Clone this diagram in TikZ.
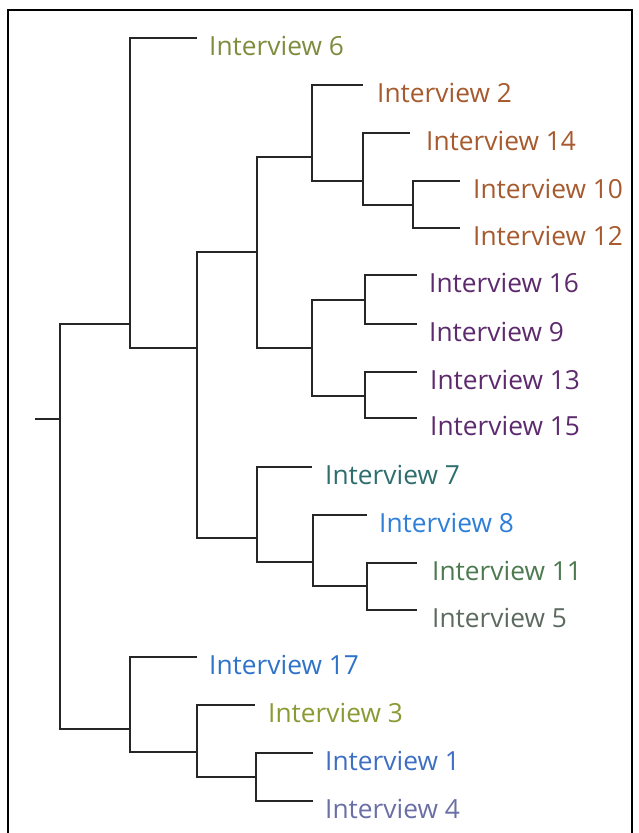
\documentclass[tikz,border=0pt]{standalone}
\usepackage{fontspec}
\setmainfont{Open Sans}
\definecolor{cOlive}{HTML}{7F8C3F}
\definecolor{cBrown}{HTML}{A65A2E}
\definecolor{cPurple}{HTML}{5E2A6E}
\definecolor{cTeal}{HTML}{2E6E6E}
\definecolor{cBlueA}{HTML}{2F7FD8}
\definecolor{cGreen}{HTML}{4E7A50}
\definecolor{cGrey}{HTML}{5D6A60}
\definecolor{cBlueB}{HTML}{2F73C8}
\definecolor{cYellowGreen}{HTML}{8A9A35}
\definecolor{cBlueC}{HTML}{3F6FC2}
\definecolor{cSlate}{HTML}{6A6FA5}
\tikzset{
  branch/.style={line width=2.4pt, draw=black!85},
  leaflabel/.style={anchor=base west, inner sep=0pt, font=\fontsize{26.3}{30}\selectfont},
}
\begin{document}
\begin{tikzpicture}[x=1pt, y=-1pt]
\useasboundingbox (0,0) rectangle (639,833);
% outer frame
\draw[line width=1.6pt] (8,833) -- (8,10) -- (632,10) -- (632,833);

% internal nodes of the tree (x = depth, y = mean of leaf rows)
\coordinate (stub) at (35,419);
\coordinate (root) at (60,419);
\coordinate (A) at (130,324);
\coordinate (B) at (197,348);
\coordinate (C) at (257,252);
\coordinate (D) at (312,157);
\coordinate (E) at (363,181);
\coordinate (F) at (413,205);
\coordinate (P) at (312,348);
\coordinate (P1) at (365,300);
\coordinate (P2) at (365,396);
\coordinate (G) at (257,538);
\coordinate (H) at (313,562);
\coordinate (I) at (367,586);
\coordinate (J) at (130,729);
\coordinate (K) at (197,752);
\coordinate (L) at (256,777);

% leaf tips
\coordinate (t6) at (197,38);
\coordinate (t2) at (363,85);
\coordinate (t14) at (410,133);
\coordinate (t10) at (460,181);
\coordinate (t12) at (460,228);
\coordinate (t16) at (417,275);
\coordinate (t9) at (417,324);
\coordinate (t13) at (417,372);
\coordinate (t15) at (417,418);
\coordinate (t7) at (312,467);
\coordinate (t8) at (367,515);
\coordinate (t11) at (417,563);
\coordinate (t5) at (417,610);
\coordinate (t17) at (197,657);
\coordinate (t3) at (255,705);
\coordinate (t1) at (313,753);
\coordinate (t4) at (313,801);

% branches
\draw[branch] (stub) -- (root);
\draw[branch] (root) |- (A);
\draw[branch] (root) |- (J);
\draw[branch] (A) |- (t6);
\draw[branch] (A) |- (B);
\draw[branch] (B) |- (C);
\draw[branch] (B) |- (G);
\draw[branch] (C) |- (D);
\draw[branch] (C) |- (P);
\draw[branch] (D) |- (t2);
\draw[branch] (D) |- (E);
\draw[branch] (E) |- (t14);
\draw[branch] (E) |- (F);
\draw[branch] (F) |- (t10);
\draw[branch] (F) |- (t12);
\draw[branch] (P) |- (P1);
\draw[branch] (P) |- (P2);
\draw[branch] (P1) |- (t16);
\draw[branch] (P1) |- (t9);
\draw[branch] (P2) |- (t13);
\draw[branch] (P2) |- (t15);
\draw[branch] (G) |- (t7);
\draw[branch] (G) |- (H);
\draw[branch] (H) |- (t8);
\draw[branch] (H) |- (I);
\draw[branch] (I) |- (t11);
\draw[branch] (I) |- (t5);
\draw[branch] (J) |- (t17);
\draw[branch] (J) |- (K);
\draw[branch] (K) |- (t3);
\draw[branch] (K) |- (L);
\draw[branch] (L) |- (t1);
\draw[branch] (L) |- (t4);

% labels: cap height sits level with the branch
\node[leaflabel, text=cOlive] (n6) at ([shift={(12,17.5)}]t6) {Interview 6};
\node[leaflabel, text=cBrown] (n2) at ([shift={(14,17.5)}]t2) {Interview 2};
\node[leaflabel, text=cBrown] (n14) at ([shift={(16,17.5)}]t14) {Interview 14};
\node[leaflabel, text=cBrown] (n10) at ([shift={(13,17.5)}]t10) {Interview 10};
\node[leaflabel, text=cBrown] (n12) at ([shift={(13,17.5)}]t12) {Interview 12};
\node[leaflabel, text=cPurple] (n16) at ([shift={(12,17.5)}]t16) {Interview 16};
\node[leaflabel, text=cPurple] (n9) at ([shift={(12,17.5)}]t9) {Interview 9};
\node[leaflabel, text=cPurple] (n13) at ([shift={(13,17.5)}]t13) {Interview 13};
\node[leaflabel, text=cPurple] (n15) at ([shift={(13,17.5)}]t15) {Interview 15};
\node[leaflabel, text=cTeal] (n7) at ([shift={(13,17.5)}]t7) {Interview 7};
\node[leaflabel, text=cBlueA] (n8) at ([shift={(12,17.5)}]t8) {Interview 8};
\node[leaflabel, text=cGreen] (n11) at ([shift={(15,17.5)}]t11) {Interview 11};
\node[leaflabel, text=cGrey] (n5) at ([shift={(15,17.5)}]t5) {Interview 5};
\node[leaflabel, text=cBlueB] (n17) at ([shift={(12,17.5)}]t17) {Interview 17};
\node[leaflabel, text=cYellowGreen] (n3) at ([shift={(13,17.5)}]t3) {Interview 3};
\node[leaflabel, text=cBlueC] (n1) at ([shift={(12,17.5)}]t1) {Interview 1};
\node[leaflabel, text=cSlate] (n4) at ([shift={(12,17.5)}]t4) {Interview 4};
\end{tikzpicture}
\end{document}
